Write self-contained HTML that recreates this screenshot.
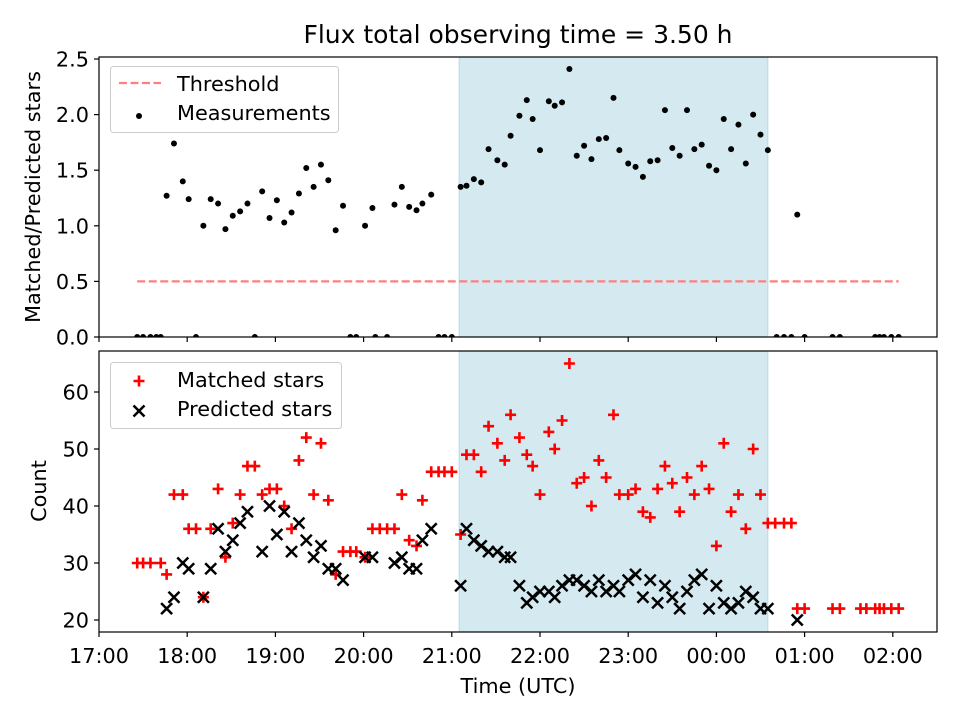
<!DOCTYPE html>
<html><head><meta charset="utf-8"><style>
body{margin:0;background:#fff;}
svg{display:block;font-family:"DejaVu Sans","Liberation Sans",sans-serif;}
</style></head><body>
<svg id="chart" width="960" height="720" viewBox="0 0 960 720" xmlns="http://www.w3.org/2000/svg">
<defs>
<clipPath id="clipTop"><rect x="99" y="57" width="838" height="280"/></clipPath>
<clipPath id="clipBot"><rect x="99" y="351" width="838" height="281"/></clipPath>
</defs>
<rect width="960" height="720" fill="#fff"/>
<text x="518" y="43" font-size="25" text-anchor="middle">Flux total observing time = 3.50 h</text>
<g id="top"></g>
<g id="bot"></g>
<text transform="translate(40,197) rotate(-90)" font-size="20.8" text-anchor="middle">Matched/Predicted stars</text>
<text transform="translate(46,491) rotate(-90)" font-size="20.8" text-anchor="middle">Count</text>
<text x="518" y="693" font-size="20.8" text-anchor="middle">Time (UTC)</text>
</svg>
<script>
// minutes after 17:00
const ratioTimes=[26,30,35,39,42,46,51,57,61,66,71,76,81,86,91,96,101,106,111,116,121,126,131,136,141,146,151,156,161,166,171,175,181,186,188,196,201,206,211,216,220,226,231,235,240,246,250,255,260,265,271,276,280,286,291,295,300,306,310,315,320,325,330,335,340,345,350,354,360,365,370,375,380,385,390,395,400,405,410,415,420,425,430,435,440,445,450,455,461,466,471,475,480,499,504,528,531,534,539,544];
const ratioValues=[0,0,0,0,0,1.27,1.74,1.40,1.24,0,1.00,1.24,1.20,0.97,1.09,1.13,1.20,0,1.31,1.07,1.23,1.03,1.12,1.29,1.52,1.35,1.55,1.41,0.96,1.18,0,0,1.00,1.16,0,0,1.19,1.35,1.17,1.14,1.20,1.28,0,0,0,1.35,1.36,1.42,1.39,1.69,1.59,1.55,1.81,1.99,2.13,1.96,1.68,2.12,2.08,2.11,2.41,1.63,1.72,1.60,1.78,1.79,2.15,1.68,1.56,1.53,1.44,1.58,1.59,2.04,1.70,1.63,2.04,1.69,1.73,1.54,1.50,1.96,1.69,1.91,1.56,2.00,1.82,1.68,0,0,0,1.10,0,0,0,0,0,0,0,0];
const matchedTimes=[26,30,35,42,46,51,57,61,66,71,76,81,86,91,96,101,106,111,116,121,126,131,136,141,146,151,156,161,166,171,175,181,186,191,196,201,206,211,216,220,226,231,235,240,246,250,255,260,265,271,276,280,286,291,295,300,306,310,315,320,325,330,335,340,345,350,354,360,365,370,375,380,385,390,395,400,405,410,415,420,425,430,435,440,445,450,455,460,466,471,475,480,499,504,518,522,528,531,534,539,544];
const matchedValues=[30,30,30,30,28,42,42,36,36,24,36,43,31,37,42,47,47,42,43,43,40,36,48,52,42,51,41,28,32,32,32,31,36,36,36,36,42,34,33,41,46,46,46,46,35,49,49,46,54,51,48,56,52,49,47,42,53,50,55,65,44,45,40,48,45,56,42,42,43,39,38,43,47,44,39,45,42,47,43,33,51,39,42,36,50,42,37,37,37,37,22,22,22,22,22,22,22,22,22,22,22];
const predictedTimes=[46,51,57,61,71,76,81,86,91,96,101,111,116,121,126,131,136,141,146,151,156,161,166,181,186,201,206,211,216,220,226,246,250,255,260,265,271,276,280,286,291,295,300,306,310,315,320,325,330,335,340,345,350,354,360,365,370,375,380,385,390,395,400,405,410,415,420,425,430,435,440,445,450,455,475];
const predictedValues=[22,24,30,29,24,29,36,32,34,37,39,32,40,35,39,32,37,34,31,33,29,29,27,31,31,30,31,29,29,34,36,26,36,34,33,32,32,31,31,26,23,24,25,25,24,26,27,27,26,25,27,25,26,25,27,28,24,27,23,26,24,22,25,27,28,22,26,23,22,23,25,24,22,22,20];
const xTickLabels=["17:00","18:00","19:00","20:00","21:00","22:00","23:00","00:00","01:00","02:00"];
const topYTicks=[0,0.5,1.0,1.5,2.0,2.5];
const botYTicks=[20,30,40,50,60];
const threshold=0.5;
const shadeStart=245, shadeEnd=455;
const thrStart=26, thrEnd=544;

const NS="http://www.w3.org/2000/svg";
const L=99,R=937;
const xs=m=>L+m/60*88.2;
const yTop=v=>337-v*111.2;
const yBot=v=>620-(v-20)*5.7;
function mk(parent,tag,attrs){const e=document.createElementNS(NS,tag);for(const k in attrs)e.setAttribute(k,attrs[k]);parent.appendChild(e);return e;}

function panel(g,top,bottom,yfun,yticks,fmt,showX){
  const sh=mk(g,'rect',{x:xs(shadeStart),y:top,width:xs(shadeEnd)-xs(shadeStart),height:bottom-top,fill:'#d4eaf0',stroke:'#b5d9e4','stroke-width':1});
  
  
  yticks.forEach(v=>{
    const y=yfun(v);
    const t=mk(g,'line',{x1:L-5,x2:L,y1:y,y2:y,stroke:'#000','stroke-width':1.2});
    
    
    const tx=mk(g,'text',{x:L-10,y:y+7.5,'font-size':20.8,'text-anchor':'end'});
    tx.textContent=fmt(v);
    
    
  });
  xTickLabels.forEach((lab,i)=>{
    const x=xs(i*60);
    const t=mk(g,'line',{x1:x,x2:x,y1:bottom,y2:bottom+5,stroke:'#000','stroke-width':1.2});
    
    
    if(showX){
      const tx=mk(g,'text',{x:x,y:bottom+31,'font-size':20.8,'text-anchor':'middle'});
      tx.textContent=lab;
      
      
    }
  });
}

const gt=document.getElementById('top');
panel(gt,57,337,yTop,topYTicks,v=>v.toFixed(1),false);
const th=mk(gt,'line',{x1:xs(thrStart),x2:xs(thrEnd),y1:yTop(threshold),y2:yTop(threshold),stroke:'#ff7f7f','stroke-width':2.2,'stroke-dasharray':'8,3.5'});


const ptsTop=mk(gt,'g',{'clip-path':'url(#clipTop)'});
ratioTimes.forEach((t,i)=>{
  const c=mk(ptsTop,'circle',{cx:xs(t),cy:yTop(ratioValues[i]),r:3,fill:'#000'});
  
  
});
const fr1=mk(gt,'rect',{x:L,y:57,width:R-L,height:280,fill:'none',stroke:'#000','stroke-width':1.2});


const lg1=mk(gt,'g',{});


mk(lg1,'rect',{x:110.5,y:66.5,width:228,height:66,rx:3,fill:'#fff','fill-opacity':0.8,stroke:'#ccc'});
mk(lg1,'line',{x1:119,x2:161,y1:83,y2:83,stroke:'#ff7f7f','stroke-width':2.2,'stroke-dasharray':'8,3.5'});
let tt=mk(lg1,'text',{x:177,y:91,'font-size':20.8});tt.textContent='Threshold';
mk(lg1,'circle',{cx:139,cy:116,r:3,fill:'#000'});
tt=mk(lg1,'text',{x:177,y:120,'font-size':20.8});tt.textContent='Measurements';

const gb=document.getElementById('bot');
panel(gb,351,632,yBot,botYTicks,v=>String(v),true);
function plus(g,x,y){return mk(g,'path',{d:`M${x-5.5},${y}H${x+5.5}M${x},${y-5.5}V${y+5.5}`,stroke:'#ff0000','stroke-width':2.6,fill:'none'});}
function cross(g,x,y){return mk(g,'path',{d:`M${x-5.5},${y-5.5}L${x+5.5},${y+5.5}M${x-5.5},${y+5.5}L${x+5.5},${y-5.5}`,stroke:'#000','stroke-width':2.5,fill:'none'});}
const ptsBot=mk(gb,'g',{'clip-path':'url(#clipBot)'});
matchedTimes.forEach((t,i)=>{
  const p=plus(ptsBot,xs(t),yBot(matchedValues[i]));
  
  
});
predictedTimes.forEach((t,i)=>{
  const p=cross(ptsBot,xs(t),yBot(predictedValues[i]));
  
  
});
const fr2=mk(gb,'rect',{x:L,y:351,width:R-L,height:281,fill:'none',stroke:'#000','stroke-width':1.2});


const lg2=mk(gb,'g',{});


mk(lg2,'rect',{x:110.5,y:362.5,width:231,height:66,rx:3,fill:'#fff','fill-opacity':0.8,stroke:'#ccc'});
plus(lg2,139,381);
tt=mk(lg2,'text',{x:177,y:387,'font-size':20.8});tt.textContent='Matched stars';
cross(lg2,139,411);
tt=mk(lg2,'text',{x:177,y:416,'font-size':20.8});tt.textContent='Predicted stars';
</script>
</body></html>
